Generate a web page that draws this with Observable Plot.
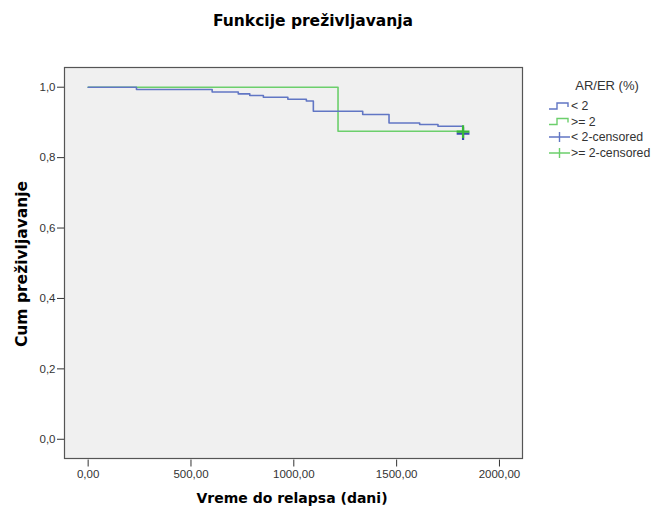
<!DOCTYPE html>
<html>
<head>
<meta charset="utf-8">
<script src="https://cdn.jsdelivr.net/npm/d3@7"></script>
<script src="https://cdn.jsdelivr.net/npm/@observablehq/plot@0.6"></script>
<style>
  html, body { margin: 0; padding: 0; background: #fff; }
  #chart svg { display: block; }
</style>
</head>
<body>
<div id="chart"></div>
<script>
// ---- data ----
const groups = ["< 2", ">= 2"];
const lowTimes = [0, 235, 603, 730, 786, 852, 971, 1061, 1095, 1335, 1463, 1612, 1701, 1823];
const lowSurv  = [1.0, 0.9934, 0.9866, 0.981, 0.9764, 0.9716, 0.9659, 0.961, 0.9317, 0.9223, 0.8984, 0.8939, 0.889, 0.868];
const highTimes = [0, 1215, 1823];
const highSurv  = [1.0, 0.875, 0.875];
const censorTimes = [1823, 1823];
const censorSurv  = [0.868, 0.874];
const censorGroup = ["< 2", ">= 2"];
const xTicks = [0, 500, 1000, 1500, 2000];
const yTicks = [0, 0.2, 0.4, 0.6, 0.8, 1.0];
const legendLabels = ["< 2", ">= 2", "< 2-censored", ">= 2-censored"];

const lineColor = {"< 2": "#6176c4", ">= 2": "#6ccf6c"};
const crossColor = {"< 2": "#3a4cae", ">= 2": "#38b838"};

const lowData = lowTimes.map((t, i) => ({t, s: lowSurv[i], g: groups[0]}));
const highData = highTimes.map((t, i) => ({t, s: highSurv[i], g: groups[1]}));
const censData = censorTimes.map((t, i) => ({t, s: censorSurv[i], g: censorGroup[i]}));

const comma = (f) => (d) => f(d).replace(".", ",");

const W = 656, H = 508;
const plot = Plot.plot({
  width: W,
  height: H,
  marginLeft: 64,
  marginRight: 134,
  marginTop: 67,
  marginBottom: 50,
  style: {fontFamily: "'Liberation Sans', Arial, sans-serif", fontSize: "11.5px", background: "#fff", color: "#333"},
  x: {domain: [-115, 2112]},
  y: {domain: [-0.0546, 1.056]},
  marks: [
    Plot.frame({fill: "#f0f0f0", stroke: null}),
    Plot.line(highData, {x: "t", y: "s", curve: "step-after", stroke: lineColor[">= 2"], strokeWidth: 1.6}),
    Plot.line(lowData, {x: "t", y: "s", curve: "step-after", stroke: lineColor["< 2"], strokeWidth: 1.6}),
    Plot.dot(censData, {x: "t", y: "s", symbol: "plus", r: 4.2, strokeWidth: 2.2, stroke: d => crossColor[d.g]}),
    Plot.frame({stroke: "#555", strokeWidth: 1.2}),
    Plot.axisY({ticks: yTicks, tickFormat: comma(d3.format(".1f")), tickSize: 7, tickPadding: 2, label: null, stroke: "#333", fill: "#333"}),
    Plot.axisX({ticks: xTicks, tickFormat: comma(d3.format(".2f")), tickSize: 7, tickPadding: 3, dy: 1.5, label: null, stroke: "#333", fill: "#333"})
  ]
});

const svg = d3.select(plot);
const bold = "'DejaVu Sans', Verdana, sans-serif";
svg.append("text").attr("x", 313).attr("y", 26).attr("text-anchor", "middle")
  .attr("font-family", bold).attr("font-weight", "bold").attr("font-size", 15.5).attr("fill", "#000")
  .text("Funkcije preživljavanja");
svg.append("text").attr("transform", "translate(27,264) rotate(-90)").attr("text-anchor", "middle")
  .attr("font-family", bold).attr("font-weight", "bold").attr("font-size", 15.5).attr("fill", "#000")
  .text("Cum preživljavanje");
svg.append("text").attr("x", 292).attr("y", 503).attr("text-anchor", "middle")
  .attr("font-family", bold).attr("font-weight", "bold").attr("font-size", 14).attr("fill", "#000")
  .text("Vreme do relapsa (dani)");

// legend
const lg = svg.append("g").attr("font-family", "'Liberation Sans', Arial, sans-serif").attr("fill", "#333");
lg.append("text").attr("x", 607).attr("y", 90).attr("text-anchor", "middle").attr("font-size", 13).text("AR/ER (%)");
const ly = [106, 121.5, 137, 153];
legendLabels.forEach((lab, i) => {
  const y = ly[i];
  const g = i % 2 === 0 ? "< 2" : ">= 2";
  if (i < 2) {
    lg.append("path").attr("d", `M549,${y + 3}H557V${y - 3}H568V${y + 1}`)
      .attr("fill", "none").attr("stroke", lineColor[g]).attr("stroke-width", 1.4);
  } else {
    lg.append("path").attr("d", `M549,${y}H570M559.5,${y - 5}V${y + 5}`)
      .attr("fill", "none").attr("stroke", lineColor[g]).attr("stroke-width", 1.4);
  }
  lg.append("text").attr("x", 571).attr("y", y + 4).attr("text-anchor", "start").attr("font-size", 12.3).text(lab);
});

document.getElementById("chart").appendChild(plot);
</script>
</body>
</html>
